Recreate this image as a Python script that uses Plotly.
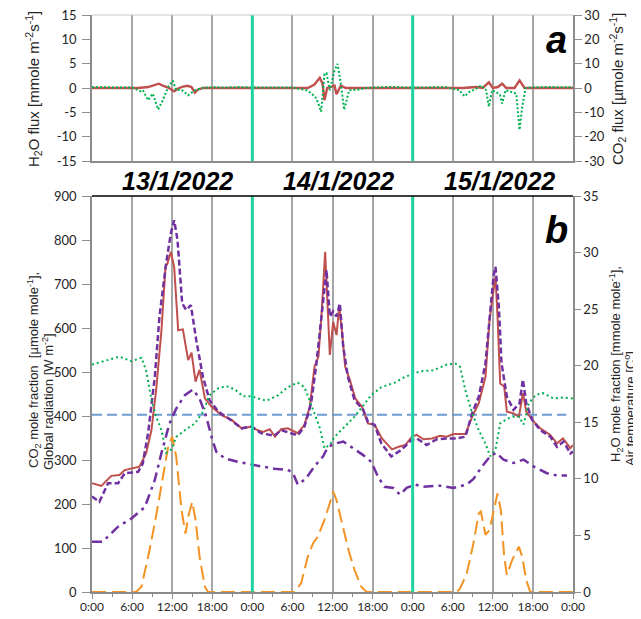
import plotly.graph_objects as go

# ---------------- data (time in hours from 13/1/2022 0:00) ----------------
x_tickvals = list(range(0, 73, 6))
x_ticktext = ["0:00", "6:00", "12:00", "18:00", "0:00", "6:00", "12:00", "18:00",
              "0:00", "6:00", "12:00", "18:00", "0:00"]
day_labels = ["13/1/2022", "14/1/2022", "15/1/2022"]

# Panel a: fluxes
t_h2o_flux = [0, 6.9, 8.4, 9.3, 10.0, 10.6, 11.4, 12.3, 12.9, 13.6, 14.3, 14.9, 15.4, 15.9, 16.6,
              32.3, 33.3, 34.1, 34.5, 34.8, 35.2, 35.7, 36.3, 36.6, 37.25, 38.0,
              55.5, 57.5, 58.5, 59.4, 60.0, 60.75, 61.4, 62.0, 63.25, 64.0, 64.75, 72]
h2o_flux = [0, 0, 0.2, 0.6, 0.88, 0.5, 0.1, -0.68, -0.1, 0.3, 0.45, 0.2, -0.95, -0.3, 0,
            0, 0.7, 2.1, 0.9, -2.5, 0, 0.2, 0.5, -1.3, 0.5, 0,
            0, 0.2, 0, 1.15, 0, 0.2, 0.9, 0, 0, 1.55, 0, 0]

t_co2_flux = [0, 2, 4, 6, 7.3, 7.6, 8.4, 9.1, 9.9, 10.6, 11.4, 12.1, 12.6, 13.4, 14.4, 15.4, 16.4,
              18, 20, 22, 24, 26, 28, 30,
              32.1, 32.9, 33.6, 34.3, 34.8, 35.1, 35.6, 36.3, 36.75, 37.25, 37.75, 38.5, 39.75,
              41, 43, 45, 47, 49, 51, 53,
              55, 55.75, 56.5, 57.5, 58.25, 59, 59.4, 59.9, 60.5, 61.1, 61.4, 61.9, 62.75, 63.5,
              64, 64.4, 64.9, 66, 68, 70, 72]
co2_flux = [0.3, 0.2, 0.3, 0.2, -1.35, -0.9, -5, -2.3, -8.8, -5, 0.4, 3.0, -0.9, -0.7, -3, -0.9, 0,
            0.3, 0.2, 0.4, 0.2, 0.3, 0.4, 0.2,
            -0.9, -2.3, -4.3, -9.7, 5.8, 6.1, -0.9, 7.2, 9.9, 1.8, -9, -0.9, -0.7,
            0, 0.3, 0.5, 0.2, 0.3, 0.2, 0.3,
            -0.9, -3.4, -1.6, -0.3, 1.1, -0.9, -7.7, -0.9, -1.6, -3, -6.4, -0.9, -1.6, -2.3,
            -17.2, -7.7, 0, 0.3, 0.4, 0.2, 0.3]

# Panel b: CO2 mole fraction (two sensors), left axis
t_co2_a = [0, 1.4, 2.9, 4.1, 4.9, 5.9, 7.1, 8.1, 8.9, 9.6, 10.4, 11.0, 11.3, 11.8, 12.3, 12.9, 13.6,
           14.4, 14.9, 15.5, 16.1, 16.9, 17.9, 19.4, 20.9, 22.4, 23.9,
           24.4, 25.6, 26.6, 27.4, 28.3, 29.3, 30.8, 31.8, 32.6, 33.3, 33.9, 34.4, 34.9, 35.2,
           35.6, 36.1, 36.6, 37.0, 37.4, 37.9, 38.6, 39.4, 40.4, 41.3, 42.3, 43.4, 44.9, 45.9,
           46.9, 47.9,
           48.6, 49.6, 50.9, 52.1, 53.1, 54.1, 55.9, 56.9, 57.9, 58.9, 59.5, 60.1, 60.4, 60.7,
           61.1, 61.7, 62.1, 63.1, 63.9, 64.5, 65.0, 65.9, 67.1, 68.6, 69.6, 70.5, 71.6, 72]
co2_a = [247, 241, 264, 266, 277, 281, 285, 315, 368, 459, 595, 739, 747, 773, 739, 595, 597,
         527, 544, 478, 505, 440, 421, 402, 391, 372, 376,
         370, 364, 370, 353, 370, 372, 361, 380, 421, 512, 535, 641, 773, 686,
         539, 614, 584, 648, 595, 512, 482, 440, 421, 383, 380, 349, 324, 330,
         334, 353,
         357, 347, 349, 355, 353, 359, 359, 398, 429, 489, 618, 686, 717, 626,
         474, 467, 410, 406, 398, 452, 410, 391, 372, 357, 338, 349, 327, 334]

t_co2_b = [0, 1.1, 2.4, 3.9, 4.9, 6.9, 7.6, 8.4, 9.4, 10.1, 11.1, 11.8, 12.3, 12.8, 13.5, 14.1,
           14.8, 15.6, 16.6, 17.6, 18.9, 20.4, 22.4, 23.9,
           25.3, 27.3, 28.3, 30.8, 31.8, 32.8, 33.6, 34.4, 35.1, 35.6, 36.1, 36.6, 37.1, 37.6,
           38.3, 39.3, 40.6, 41.3, 42.3, 43.3, 44.8, 46.3, 47.8,
           48.6, 50.1, 51.6, 53.1, 54.6, 55.9, 56.9, 57.9, 58.9, 59.6, 60.1, 60.4, 60.9, 61.3,
           62.1, 63.1, 64.0, 64.5, 65.0, 65.9, 67.1, 68.6, 69.6, 70.6, 71.6, 72]
co2_b = [217, 205, 247, 247, 270, 273, 292, 361, 489, 626, 747, 815, 845, 800, 656, 641,
         652, 573, 489, 436, 410, 395, 372, 376,
         361, 355, 368, 356, 376, 429, 520, 626, 732, 626, 638, 626, 656, 558,
         489, 436, 414, 387, 380, 338, 308, 323, 345,
         349, 334, 347, 349, 349, 353, 406, 444, 520, 626, 717, 739, 648, 520,
         444, 414, 429, 483, 429, 391, 368, 353, 330, 342, 315, 319]

# Global radiation, left axis
t_rad = [0, 6.6, 7.4, 8.4, 9.4, 10.4, 11.4, 12.0, 12.6, 13.4, 14.0, 14.4, 15.0, 15.5, 16.1, 16.9, 17.4,
         30.3, 31.3, 32.3, 33.1, 33.8, 34.8, 35.6, 36.1, 36.6, 37.4, 38.4, 39.3, 40.3, 41.1,
         54.6, 55.1, 56.1, 57.1, 57.9, 58.2, 58.9, 59.5, 60.1, 60.7, 61.2, 61.7, 62.1, 62.9,
         63.9, 64.4, 65.0, 65.6, 72]
radiation = [0, 0, 12, 80, 156, 247, 330, 353, 308, 186, 133, 171, 205, 164, 80, 12, 0,
             0, 20, 80, 111, 126, 164, 202, 228, 209, 156, 95, 50, 12, 0,
             0, 8, 42, 111, 179, 183, 130, 141, 186, 224, 186, 80, 39, 73,
             103, 80, 27, 0, 0]

# Reference level (blue dashed), left axis
t_ref = [0, 71]
ref_level = [403, 403]

# H2O mole fraction / air temperature, right axis
t_h2o_frac = [0, 1.6, 3.9, 5.9, 7.9, 9.4, 10.4, 11.6, 12.6, 13.9, 15.1, 16.1, 17.1, 17.9, 18.6,
              19.9, 21.9, 23.4,
              25.3, 27.3, 29.3, 30.1, 30.8, 32.0, 33.3, 34.6, 35.3, 36.3, 37.6, 39.1, 40.6, 41.8,
              42.8, 43.8, 45.1, 46.1, 47.1, 48.3,
              49.6, 52.1, 54.1, 56.1, 57.1, 58.4, 59.6, 60.5, 61.6, 63.1, 64.6, 66.1, 68.1, 69.6, 71.1]
h2o_frac = [4.45, 4.45, 5.77, 6.5, 7.5, 9.9, 12.3, 14.9, 16.2, 17.4, 17.9, 17.1, 15.5, 13.7, 12.4,
            11.8, 11.5, 11.3,
            11.1, 10.9, 10.8, 10.5, 9.5, 10.0, 11.1, 12.0, 12.8, 13.1, 13.3, 12.7, 12.1, 11.5,
            10.2, 9.3, 9.2, 8.6, 9.2, 9.5,
            9.3, 9.4, 9.2, 9.5, 10.0, 11.1, 12.0, 12.3, 11.7, 11.4, 11.7, 11.1, 10.5, 10.3, 10.3]

t_temp = [0, 1.9, 4.1, 5.9, 7.4, 8.1, 8.9, 9.6, 10.4, 11.1, 11.9, 12.6, 13.9, 15.4, 16.6, 17.6,
          18.9, 20.1, 21.4, 22.6, 23.9,
          24.9, 26.1, 27.9, 29.3, 30.8, 31.8, 32.6, 33.3, 34.1, 34.8, 35.6, 36.3, 37.8, 39.3,
          40.5, 41.8, 43.3, 45.3, 46.8, 48.3,
          49.1, 51.1, 53.1, 54.4, 55.1, 55.9, 56.9, 57.9, 58.9, 59.6, 60.4, 61.1, 62.1, 63.1,
          63.9, 64.6, 65.4, 66.4, 67.4, 69.1, 70.6, 72]
temp = [20.1, 20.4, 20.8, 20.4, 20.7, 19.6, 17.0, 15.5, 14.3, 12.3, 12.6, 13.7, 14.3, 14.9, 15.9, 17.4,
        18.0, 18.2, 17.9, 17.3, 17.3,
        17.1, 16.9, 17.4, 18.1, 18.5, 18.1, 16.9, 15.8, 14.5, 12.7, 13.0, 13.7, 14.6, 15.5,
        16.4, 17.4, 18.1, 18.5, 19.0, 19.3,
        19.5, 19.6, 20.1, 20.2, 19.9, 17.8, 15.8, 14.3, 13.1, 12.0, 12.6, 14.9, 15.3, 15.5,
        15.5, 14.8, 16.7, 17.4, 17.6, 17.1, 17.2, 17.1]

# ---------------- styling / geometry ----------------
# the page puts the figure at an 8 px offset; coordinates below are screen pixels
OFF = 8
W, H = 641 - OFF, 619 - OFF
def px(x):
    return (x - OFF) / W
def py(y):
    return 1 - (y - OFF) / H

XD = [px(92), px(573)]
YA = [py(161), py(15)]
YB = [py(592), py(196)]

RED = "#C0504D"
PURPLE = "#7030A0"
GREEN = "#00B050"
ORANGE = "#F39323"
BLUE = "#6F9BD1"
TEAL = "#1FD3A0"
GRID = "#A6A6A6"
AXIS = "#8C8C8C"
TICKFONT = dict(family="Lato, Open Sans, sans-serif", size=13, color="#262626")
TITLE_A = dict(family="Liberation Sans, Arial, sans-serif", size=15, color="#262626")
TITLE_B = dict(family="Liberation Sans, Arial, sans-serif", size=13, color="#262626")

fig = go.Figure()

# panel a
fig.add_trace(go.Scatter(x=t_co2_flux, y=co2_flux, xaxis="x", yaxis="y2", mode="lines",
                         line=dict(color=GREEN, width=2, dash="2px,2px"), showlegend=False))
fig.add_trace(go.Scatter(x=t_h2o_flux, y=h2o_flux, xaxis="x", yaxis="y", mode="lines",
                         line=dict(color=RED, width=2.4), showlegend=False))

# panel b
fig.add_trace(go.Scatter(x=t_rad, y=radiation, xaxis="x2", yaxis="y3", mode="lines",
                         line=dict(color=ORANGE, width=2, dash="14px,6px"), showlegend=False))
fig.add_trace(go.Scatter(x=t_temp, y=temp, xaxis="x2", yaxis="y4", mode="lines",
                         line=dict(color=GREEN, width=2, dash="2px,3px"), showlegend=False))
fig.add_trace(go.Scatter(x=t_h2o_frac, y=h2o_frac, xaxis="x2", yaxis="y4", mode="lines",
                         line=dict(color=PURPLE, width=2.5, dash="10px,5px,3px,5px"), showlegend=False))
fig.add_trace(go.Scatter(x=t_ref, y=ref_level, xaxis="x2", yaxis="y3", mode="lines",
                         line=dict(color=BLUE, width=2, dash="10px,5px"), showlegend=False))
fig.add_trace(go.Scatter(x=t_co2_a, y=co2_a, xaxis="x2", yaxis="y3", mode="lines",
                         line=dict(color=RED, width=2), showlegend=False))
fig.add_trace(go.Scatter(x=t_co2_b, y=co2_b, xaxis="x2", yaxis="y3", mode="lines",
                         line=dict(color=PURPLE, width=2.5, dash="6px,3px"), showlegend=False))

common_x = dict(domain=XD, range=[0, 72], tickvals=x_tickvals, showgrid=True, gridcolor=GRID,
                gridwidth=1.5, zeroline=False, showline=True, linecolor=AXIS, linewidth=1.5,
                automargin=False, fixedrange=True)
common_y = dict(showgrid=False, zeroline=False, showline=True, linecolor=AXIS, linewidth=1.5,
                ticks="outside", tickcolor=AXIS, tickfont=TICKFONT, automargin=False,
                ticklabeloverflow="allow", fixedrange=True)

a_left_vals = [-15, -10, -5, 0, 5, 10, 15]
a_right_vals = [-30, -20, -10, 0, 10, 20, 30]
b_left_vals = list(range(0, 901, 100))
b_right_vals = list(range(0, 36, 5))

fig.update_layout(
    width=W, height=H, margin=dict(l=0, r=0, t=0, b=0), autosize=False,
    plot_bgcolor="white", paper_bgcolor="white", showlegend=False,
    xaxis=dict(**common_x, anchor="y", showticklabels=False, ticks=""),
    yaxis=dict(**common_y, domain=YA, anchor="x", range=[-15, 15], tickvals=a_left_vals,
               ticktext=[str(v) for v in a_left_vals], ticklen=8, ticklabelstandoff=3),
    yaxis2=dict(**common_y, overlaying="y", side="right", anchor="x", range=[-30, 30],
                tickvals=a_right_vals, ticktext=[str(v) for v in a_right_vals], ticklen=7),
    xaxis2=dict(**common_x, anchor="y3", ticktext=x_ticktext, ticks="outside", ticklen=5,
                tickcolor=AXIS, tickfont=dict(TICKFONT, size=12), ticklabelstandoff=-2,
                minor=dict(dtick=3, ticks="outside", ticklen=3, tickcolor=AXIS, showgrid=False)),
    yaxis3=dict(**common_y, domain=YB, anchor="x2", range=[0, 900], tickvals=b_left_vals,
                ticktext=[str(v) for v in b_left_vals], ticklen=8, ticklabelstandoff=3),
    yaxis4=dict(**common_y, overlaying="y3", side="right", anchor="x2", range=[0, 35],
                tickvals=b_right_vals, ticktext=[str(v) for v in b_right_vals], ticklen=6),
)

shapes = []
for xr, yr in (("x", "y domain"), ("x2", "y3 domain")):
    for d in (24, 48):
        shapes.append(dict(type="line", xref=xr, yref=yr, x0=d, x1=d, y0=0, y1=1,
                           line=dict(color=TEAL, width=3), layer="above"))
shapes.append(dict(type="line", xref="x domain", yref="y domain", x0=0, x1=1, y0=1, y1=1,
                   line=dict(color="#C8C8C8", width=1)))
shapes.append(dict(type="line", xref="x2 domain", yref="y3 domain", x0=0, x1=1, y0=1, y1=1,
                   line=dict(color="black", width=1.5)))
fig.update_layout(shapes=shapes)

ann = []
day_font = dict(family="Liberation Sans, Arial, sans-serif", size=25, color="black")
for i, lab in enumerate(day_labels):
    ann.append(dict(text=f"<b><i>{lab}</i></b>", xref="paper", yref="paper",
                    x=px([177, 338, 499][i]), y=py(181), showarrow=False,
                    xanchor="center", yanchor="middle", font=day_font))
big = dict(family="Liberation Sans, Arial, sans-serif", size=38, color="black")
ann.append(dict(text="<b><i>a</i></b>", xref="paper", yref="paper", x=px(556), y=py(40),
                showarrow=False, xanchor="center", yanchor="middle", font=big))
ann.append(dict(text="<b><i>b</i></b>", xref="paper", yref="paper", x=px(556), y=py(230),
                showarrow=False, xanchor="center", yanchor="middle", font=big))

def vtitle(text, x, y, font):
    return dict(text=text, xref="paper", yref="paper", x=px(x), y=py(y), showarrow=False,
                textangle=-90, xanchor="center", yanchor="middle", font=font)

ann.append(vtitle("H<sub>2</sub>O flux [mmole m<sup>-2</sup>s<sup>-1</sup>]", 34, 89, TITLE_A))
ann.append(vtitle("CO<sub>2</sub> flux [µmole m<sup>-2</sup>s<sup>-1</sup>]", 618, 89, TITLE_A))
ann.append(vtitle("CO<sub>2</sub> mole fraction  [µmole mole<sup>-1</sup>],", 34, 370, TITLE_B))
ann.append(vtitle("Global radiation [W m<sup>-2</sup>]", 48, 402, TITLE_B))
ann.append(vtitle("H<sub>2</sub>O mole fraction [mmole mole<sup>-1</sup>],", 616, 364, TITLE_B))
ann.append(vtitle("Air temperature [C<sup>o</sup>]", 630, 409, TITLE_B))
fig.update_layout(annotations=ann)

fig.write_html("out.html")
